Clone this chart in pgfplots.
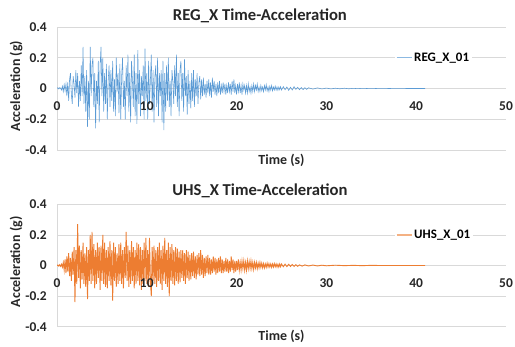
\documentclass[border=0pt]{standalone}
\usepackage{pgfplots}
\pgfplotsset{compat=1.18}
\usepackage{fontspec}
\setmainfont{Carlito}
\definecolor{gridgray}{HTML}{D9D9D9}
\definecolor{regblue}{HTML}{5B9BD5}
\definecolor{uhsorange}{HTML}{ED7D31}
\definecolor{txt}{HTML}{262626}
\pgfplotsset{
  layers/ticksontop/.define layer set={
    axis background,axis grid,axis ticks,axis lines,pre main,main,axis tick labels,axis descriptions,axis foreground
  }{/pgfplots/layers/standard},
  excel/.style={
    set layers=ticksontop,
    scale only axis,
    width=449bp,
    xmin=0, xmax=50, ymin=-0.4, ymax=0.4,
    axis x line=middle,
    axis y line=left,
    hide obscured x ticks=false,
    hide obscured y ticks=false,
    axis line style={draw=gridgray,-},
    xtick={0,10,20,30,40,50},
    xticklabels={0,10,20,30,40,50},
    ytick={-0.4,-0.2,0,0.2,0.4},
    yticklabels={-0.4,-0.2,0,0.2,0.4},
    major tick length=0pt,
    ymajorgrids,
    grid style={gridgray, line width=0.6bp},
    ticklabel style={font=\fontsize{13.5}{15}\selectfont\bfseries, text=txt},
    xticklabel style={anchor=north, inner sep=0pt, yshift=-13bp},
    yticklabel style={anchor=east, inner sep=0pt, xshift=-10bp},
    every axis title shift=0pt,
    title style={font=\fontsize{16.7}{18}\selectfont\bfseries, text=txt, anchor=base},
    xlabel style={font=\fontsize{14}{15}\selectfont\bfseries, text=txt, at={(axis description cs:0.5,-0.114)}, anchor=base},
    ylabel style={font=\fontsize{14}{15}\selectfont\bfseries, text=txt, at={(axis description cs:-0.091,0.52)}, anchor=center},
    xlabel={Time (s)},
    ylabel={Acceleration (g)},
    legend style={at={(axis cs:37.6,0.2)}, anchor=west, draw=none, fill=white, inner sep=1bp,
      font=\fontsize{13}{15}\selectfont\bfseries, cells={anchor=west}},
  }
}
\begin{document}
\begin{tikzpicture}
\path (0,0) rectangle (515bp,347bp);
\begin{axis}[excel, at={(57bp,197bp)}, anchor=south west, height=123bp,
  title={REG\_X Time-Acceleration}, title style={at={(axis description cs:0.452,1.052)}},
  legend image code/.code={\draw[draw=regblue!70, line width=1.4bp] (0bp,0bp) -- (15bp,0bp);}]
\addplot[draw=regblue, line width=0.55bp, no markers] coordinates {
(0,0) (0.1,0.005) (0.2,-0.003) (0.3,0.006) (0.4,0.002) (0.5,-0.01) (0.6,0.015) (0.7,-0.02) (0.8,0.025) (0.9,-0.015)
(1,0.03) (1.1,-0.05) (1.2,0.04) (1.3,-0.08) (1.4,0.06) (1.5,0.1) (1.6,-0.04) (1.7,-0.1) (1.8,0.08) (1.9,0.03)
(2,-0.06) (2.1,0.12) (2.2,-0.03) (2.3,0.1) (2.4,-0.12) (2.5,0.05) (2.6,-0.08) (2.7,0.15) (2.8,-0.05) (2.9,0.27)
(3,-0.1) (3.1,0.08) (3.2,-0.15) (3.3,0.12) (3.4,-0.25) (3.5,0.05) (3.6,-0.2) (3.7,0.27) (3.8,-0.05) (3.9,0.15)
(4,0.2) (4.1,-0.12) (4.2,0.1) (4.3,-0.26) (4.4,0.05) (4.5,-0.1) (4.6,0.18) (4.7,-0.22) (4.8,0.15) (4.9,0.27)
(5,-0.05) (5.1,0.2) (5.2,-0.15) (5.3,0.1) (5.4,-0.1) (5.5,0.16) (5.6,-0.2) (5.7,0.05) (5.8,0.15) (5.9,-0.12)
(6,0.12) (6.1,-0.08) (6.2,0.18) (6.3,-0.15) (6.4,0.06) (6.5,-0.18) (6.6,0.2) (6.7,-0.02) (6.8,0.1) (6.9,-0.16)
(7,0.16) (7.1,-0.2) (7.2,0.08) (7.3,0.2) (7.4,-0.12) (7.5,0.05) (7.6,-0.2) (7.7,0.15) (7.8,-0.05) (7.9,0.22)
(8,-0.15) (8.1,0.1) (8.2,-0.22) (8.3,0.18) (8.4,0.05) (8.5,-0.12) (8.6,0.22) (8.7,-0.18) (8.8,0.1) (8.9,-0.23)
(9,0.25) (9.1,-0.1) (9.2,0.12) (9.3,-0.18) (9.4,0.08) (9.5,-0.05) (9.6,0.15) (9.7,-0.2) (9.8,0.26) (9.9,-0.08)
(10,0.1) (10.1,-0.2) (10.2,0.18) (10.3,-0.1) (10.4,0.05) (10.5,0.22) (10.6,-0.15) (10.7,0.12) (10.8,-0.22) (10.9,0.08)
(11,0.15) (11.1,-0.12) (11.2,0.2) (11.3,-0.18) (11.4,0.1) (11.5,-0.05) (11.6,0.12) (11.7,-0.22) (11.8,0.18) (11.9,-0.27)
(12,0.1) (12.1,-0.15) (12.2,0.15) (12.3,-0.08) (12.4,0.2) (12.5,-0.12) (12.6,0.05) (12.7,-0.18) (12.8,0.12) (12.9,0.05)
(13,-0.1) (13.1,0.15) (13.2,-0.05) (13.3,0.22) (13.4,-0.12) (13.5,0.1) (13.6,-0.18) (13.7,0.12) (13.8,0.18) (13.9,-0.08)
(14,0.1) (14.1,-0.15) (14.2,0.19) (14.3,-0.05) (14.4,0.08) (14.5,-0.17) (14.6,0.12) (14.7,-0.1) (14.8,0.05) (14.9,-0.13)
(15,0.1) (15.1,-0.08) (15.2,0.12) (15.3,-0.12) (15.4,0.06) (15.5,-0.05) (15.6,0.1) (15.7,-0.1) (15.8,0.04) (15.9,0.08)
(16,-0.07) (16.1,0.06) (16.2,-0.05) (16.3,0.07) (16.4,-0.04) (16.5,0.03) (16.6,-0.06) (16.7,0.05) (16.8,-0.03) (16.9,0.06)
(17,-0.05) (17.1,0.04) (17.2,-0.06) (17.3,0.07) (17.4,-0.02) (17.5,0.05) (17.6,-0.04) (17.7,0.03) (17.8,-0.05) (17.9,0.04)
(18,-0.03) (18.1,0.05) (18.2,-0.04) (18.3,0.02) (18.4,-0.03) (18.5,0.04) (18.6,-0.02) (18.7,0.03) (18.8,-0.04) (18.9,0.02)
(19,-0.03) (19.1,0.04) (19.2,-0.02) (19.3,0.03) (19.4,-0.04) (19.5,0.05) (19.6,-0.02) (19.7,0.06) (19.8,-0.03) (19.9,0.02)
(20,-0.04) (20.1,0.03) (20.2,-0.02) (20.3,0.04) (20.4,-0.03) (20.5,0.02) (20.6,-0.04) (20.7,0.03) (20.8,-0.01) (20.9,0.02)
(21,-0.03) (21.1,0.02) (21.2,-0.03) (21.3,0.03) (21.4,-0.02) (21.5,0.01) (21.6,-0.03) (21.7,0.02) (21.8,-0.02) (21.9,0.03)
(22,-0.02) (22.1,0.02) (22.2,-0.01) (22.3,0.03) (22.4,-0.02) (22.5,0.01) (22.6,-0.02) (22.7,0.02) (22.8,-0.015) (22.9,0.01)
(23,-0.02) (23.1,0.02) (23.2,-0.01) (23.3,0.025) (23.4,-0.015) (23.5,0.01) (23.6,-0.02) (23.7,0.015) (23.8,-0.01) (23.9,0.02)
(24,-0.015) (24.1,0.01) (24.2,-0.01) (24.3,0.015) (24.4,-0.01) (24.5,0.01) (24.6,-0.012) (24.7,0.01) (24.8,-0.008) (24.9,0.012)
(25,-0.01) (25.2,0.012) (25.4,-0.008) (25.6,0.01) (25.8,-0.012) (26,0.008) (26.2,-0.01) (26.4,0.012) (26.6,-0.006) (26.8,0.008)
(27,-0.008) (27.2,0.006) (27.4,-0.007) (27.6,0.005) (27.8,-0.006) (28,0.005) (28.5,-0.004) (29,0.004) (29.5,-0.003) (30,0.003)
(30.5,-0.003) (31,0.002) (31.5,-0.002) (32,0.002) (32.5,-0.002) (33,0.001) (33.5,-0.001) (34,0.001) (35,-0.001) (36,0.001)
(37,0) (38,0.001) (39,0) (40,0) (41,0)
};
\addlegendentry{REG\_X\_01}
\end{axis}
\begin{axis}[excel, at={(57bp,20.3bp)}, anchor=south west, height=122.4bp,
  title={UHS\_X Time-Acceleration}, title style={at={(axis description cs:0.452,1.070)}},
  ylabel style={at={(axis description cs:-0.091,0.53)}},
  legend image code/.code={\draw[draw=uhsorange!60, line width=1.4bp] (0bp,0bp) -- (15bp,0bp);}]
\addplot[draw=uhsorange, line width=0.9bp, no markers] coordinates {
(0,0) (0.1,0.003) (0.2,-0.004) (0.3,0.005) (0.4,-0.006) (0.5,0.008) (0.6,-0.01) (0.7,0.02) (0.8,-0.03) (0.9,0.04)
(1,-0.05) (1.1,0.06) (1.2,-0.04) (1.3,0.08) (1.4,-0.07) (1.5,0.05) (1.6,-0.1) (1.7,0.09) (1.8,-0.06) (1.9,0.12)
(2,-0.24) (2.1,0.1) (2.2,-0.12) (2.3,0.27) (2.4,-0.08) (2.5,0.13) (2.6,-0.15) (2.7,0.1) (2.8,-0.09) (2.9,0.15)
(3,-0.12) (3.1,0.08) (3.2,-0.14) (3.3,0.12) (3.4,-0.22) (3.5,0.1) (3.6,-0.1) (3.7,0.2) (3.8,-0.12) (3.9,0.22)
(4,-0.1) (4.1,0.14) (4.2,-0.15) (4.3,0.1) (4.4,-0.12) (4.5,0.15) (4.6,-0.08) (4.7,0.12) (4.8,-0.16) (4.9,0.13)
(5,-0.1) (5.1,0.2) (5.2,-0.12) (5.3,0.15) (5.4,-0.14) (5.5,0.1) (5.6,-0.15) (5.7,0.12) (5.8,-0.1) (5.9,0.16)
(6,-0.13) (6.1,0.1) (6.2,-0.23) (6.3,0.15) (6.4,-0.1) (6.5,0.12) (6.6,-0.14) (6.7,0.08) (6.8,-0.12) (6.9,0.14)
(7,-0.1) (7.1,0.15) (7.2,-0.12) (7.3,0.1) (7.4,-0.15) (7.5,0.12) (7.6,-0.08) (7.7,0.22) (7.8,-0.1) (7.9,0.13)
(8,-0.14) (8.1,0.1) (8.2,-0.12) (8.3,0.16) (8.4,-0.1) (8.5,0.12) (8.6,-0.15) (8.7,0.1) (8.8,-0.12) (8.9,0.15)
(9,-0.1) (9.1,0.14) (9.2,-0.13) (9.3,0.12) (9.4,-0.16) (9.5,0.1) (9.6,-0.12) (9.7,0.15) (9.8,-0.1) (9.9,0.18)
(10,-0.12) (10.1,0.1) (10.2,-0.14) (10.3,0.18) (10.4,-0.1) (10.5,-0.2) (10.6,0.12) (10.7,-0.1) (10.8,0.13) (10.9,-0.12)
(11,0.1) (11.1,-0.14) (11.2,0.12) (11.3,-0.1) (11.4,0.15) (11.5,-0.12) (11.6,0.1) (11.7,-0.16) (11.8,0.13) (11.9,-0.1)
(12,0.18) (12.1,-0.12) (12.2,0.1) (12.3,-0.14) (12.4,0.15) (12.5,-0.2) (12.6,0.12) (12.7,-0.1) (12.8,0.14) (12.9,-0.12)
(13,0.1) (13.1,-0.13) (13.2,0.12) (13.3,-0.1) (13.4,0.11) (13.5,-0.12) (13.6,0.09) (13.7,-0.11) (13.8,0.1) (13.9,-0.08)
(14,0.1) (14.1,-0.1) (14.2,0.08) (14.3,-0.12) (14.4,0.1) (14.5,-0.08) (14.6,0.09) (14.7,-0.1) (14.8,0.07) (14.9,-0.09)
(15,0.08) (15.1,-0.07) (15.2,0.09) (15.3,-0.08) (15.4,0.06) (15.5,-0.09) (15.6,0.07) (15.7,-0.06) (15.8,0.08) (15.9,-0.07)
(16,0.1) (16.1,-0.06) (16.2,0.07) (16.3,-0.08) (16.4,0.05) (16.5,-0.07) (16.6,0.06) (16.7,-0.05) (16.8,0.07) (16.9,-0.06)
(17,0.05) (17.1,-0.06) (17.2,0.04) (17.3,-0.05) (17.4,0.06) (17.5,-0.04) (17.6,0.05) (17.7,-0.06) (17.8,0.04) (17.9,-0.05)
(18,0.05) (18.1,-0.04) (18.2,0.06) (18.3,-0.05) (18.4,0.04) (18.5,-0.05) (18.6,0.03) (18.7,-0.04) (18.8,0.05) (18.9,-0.04)
(19,0.04) (19.1,-0.05) (19.2,0.03) (19.3,-0.04) (19.4,0.06) (19.5,-0.03) (19.6,0.04) (19.7,-0.05) (19.8,0.03) (19.9,-0.04)
(20,0.03) (20.1,-0.03) (20.2,0.04) (20.3,-0.03) (20.4,0.02) (20.5,-0.03) (20.6,0.03) (20.7,-0.02) (20.8,0.03) (20.9,-0.03)
(21,0.02) (21.1,-0.03) (21.2,0.03) (21.3,-0.02) (21.4,0.025) (21.5,-0.02) (21.6,0.03) (21.7,-0.02) (21.8,0.02) (21.9,-0.025)
(22,0.02) (22.1,-0.015) (22.2,0.02) (22.3,-0.02) (22.4,0.015) (22.5,-0.015) (22.6,0.02) (22.7,-0.012) (22.8,0.015) (22.9,-0.015)
(23,0.012) (23.1,-0.015) (23.2,0.01) (23.3,-0.012) (23.4,0.015) (23.5,-0.01) (23.6,0.012) (23.7,-0.01) (23.8,0.01) (23.9,-0.012)
(24,0.01) (24.1,-0.01) (24.2,0.012) (24.3,-0.008) (24.4,0.01) (24.5,-0.01) (24.6,0.008) (24.7,-0.01) (24.8,0.01) (24.9,-0.008)
(25,0.01) (25.2,-0.008) (25.4,0.009) (25.6,-0.007) (25.8,0.008) (26,-0.006) (26.2,0.007) (26.4,-0.006) (26.6,0.005) (26.8,-0.005)
(27,0.004) (27.3,-0.004) (27.6,0.004) (28,-0.003) (28.5,0.003) (29,-0.003) (29.5,0.002) (30,-0.002) (31,0.002) (32,-0.001)
(33,0.001) (34,-0.001) (35,0.001) (36,0) (37,0) (38,0) (39,0) (40,0) (41,0)
};
\addlegendentry{UHS\_X\_01}
\end{axis}
\end{tikzpicture}
\end{document}
